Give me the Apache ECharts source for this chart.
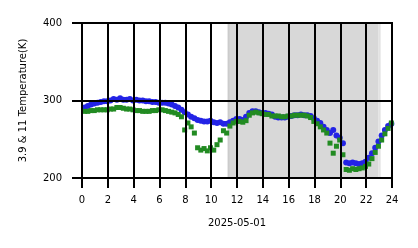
<!DOCTYPE html>
<html>
<head>
<meta charset="utf-8">
<script src="https://cdn.jsdelivr.net/npm/echarts@6/dist/echarts.min.js"></script>
<style>html,body{margin:0;padding:0;background:#fff}#c{width:418px;height:248px}</style>
</head>
<body>
<div id="c"></div>
<script>
// sampling: every 15 minutes starting 00:12
const startHour = 0.2;
const stepHour = 0.25;
const blueK = [291,293,295,296,297,298,299,299,300,302,301,303,301,301,302,300,301,300,300,299,
  299,298,298,297,297,297,296,295,293,291,288,285,282,279,277,275,274,273,273,274,
  272,271,272,270,270,272,274,276,276,275,279,284,286,286,285,284,284,283,282,279,
  278,278,278,279,280,281,281,282,281,281,280,277,274,271,266,262,258,262,255,252,
  245,220,219,220,219,218,219,221,226,232,239,247,255,262,267,270];
const greenK = [286,286,287,287,288,288,288,288,289,289,291,291,290,289,289,288,287,287,286,286,
  286,287,287,288,288,287,286,285,284,282,279,262,271,266,258,239,236,238,235,239,
  236,243,249,261,258,267,271,273,273,272,274,281,284,285,284,283,282,282,280,280,
  280,279,279,280,280,281,281,281,281,280,278,273,270,266,262,258,245,232,241,249,
  230,211,210,212,211,212,213,215,218,225,233,241,249,257,264,271];
const xTicks = [0,2,4,6,8,10,12,14,16,18,20,22,24];
const yTicks = [200,300,400];
const shade = [[11.27,11.45],[11.45,22.93],[22.93,23.12]];
const xLabel = '2025-05-01';
const yLabel = '3.9 & 11 Temperature(K)';

const pts = arr => arr.map((v,i)=>[startHour+stepHour*i, v]);
const font = 'DejaVu Sans';
const chart = echarts.init(document.getElementById('c'), null, {renderer:'canvas'});
chart.setOption({
  animation:false,
  backgroundColor:'#fff',
  grid:{left:82,right:26,top:23,bottom:70,show:true,borderColor:'#000',borderWidth:2,backgroundColor:'transparent',z:3},
  xAxis:{type:'value',min:xTicks[0],max:xTicks[xTicks.length-1],interval:2,z:3,
    name:xLabel,nameLocation:'middle',nameGap:40,
    nameTextStyle:{fontFamily:font,fontSize:10,color:'#000'},
    axisLine:{show:true,lineStyle:{color:'#000',width:2}},
    axisTick:{show:true,length:10,lineStyle:{color:'#000',width:2}},
    axisLabel:{fontFamily:font,fontSize:10,color:'#000',margin:17},
    splitLine:{show:true,lineStyle:{color:'#000',width:2}}},
  yAxis:{type:'value',min:yTicks[0],max:yTicks[yTicks.length-1],interval:100,z:3,
    name:yLabel,nameLocation:'middle',nameGap:54,
    nameTextStyle:{fontFamily:font,fontSize:10,color:'#000'},
    axisLine:{show:true,lineStyle:{color:'#000',width:2}},
    axisTick:{show:true,length:10,lineStyle:{color:'#000',width:2}},
    axisLabel:{fontFamily:font,fontSize:10,color:'#000',margin:20},
    splitLine:{show:true,lineStyle:{color:'#000',width:2}}},
  series:[
    {type:'scatter',data:[],z:1,silent:true,
     markArea:{silent:true,data:[
       [{xAxis:shade[0][0],itemStyle:{color:'#cbcbcb'}},{xAxis:shade[0][1]}],
       [{xAxis:shade[1][0],itemStyle:{color:'#d8d8d8'}},{xAxis:shade[1][1]}],
       [{xAxis:shade[2][0],itemStyle:{color:'#e2e2e2'}},{xAxis:shade[2][1]}]
     ]}},
    {type:'scatter',z:2,symbol:'circle',symbolSize:6,data:pts(blueK),itemStyle:{color:'#2323e6',opacity:1}},
    {type:'scatter',z:2,symbol:'rect',symbolSize:5,data:pts(greenK),itemStyle:{color:'#228b22',opacity:1}}
  ]
});
</script>
</body>
</html>
